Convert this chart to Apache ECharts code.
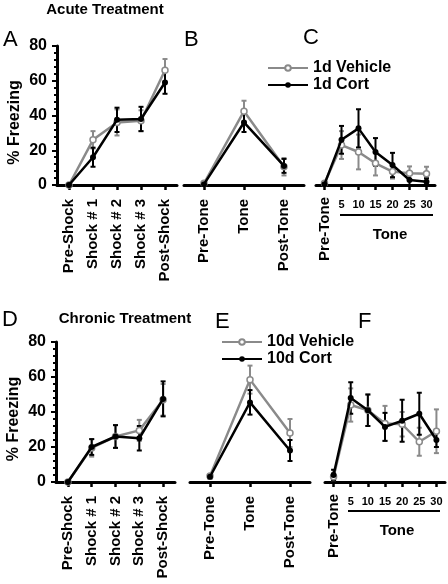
<!DOCTYPE html>
<html>
<head>
<meta charset="utf-8">
<script src="https://cdn.jsdelivr.net/npm/echarts@6/dist/echarts.min.js"></script>
<style>html,body{margin:0;padding:0;background:#fff;}#c{width:448px;height:584px;}</style>
</head>
<body>
<div id="c"></div>
<script>
// ---- categories / tick labels ----
var catsShock = ['Pre-Shock', 'Shock # 1', 'Shock # 2', 'Shock # 3', 'Post-Shock'];
var catsTone = ['Pre-Tone', 'Tone', 'Post-Tone'];
var catsToneBins = ['Pre-Tone', '5', '10', '15', '20', '25', '30'];
var yTicks = [0, 20, 40, 60, 80];

// ---- Acute (1d) ----
var vehA = [0, 26, 36, 37, 66];        var vehAErr = [0.5, 5, 7.5, 6, 6.5];
var cortA = [0, 16, 37.5, 38, 59];     var cortAErr = [0.5, 5.5, 7, 7, 6.5];
var vehB = [1, 42.5, 10.5];            var vehBErr = [0.5, 6, 5];
var cortB = [0.5, 36, 11];             var cortBErr = [0.5, 5.5, 4];
var vehC = [1, 23, 19, 12.5, 7.7, 6.7, 6.5];   var vehCErr = [0.5, 8, 10, 7, 4, 4, 4];
var cortC = [0.5, 26, 32.6, 19, 11.5, 2.9, 1.9]; var cortCErr = [0.5, 8, 11, 8, 7, 3, 2];

// ---- Chronic (10d) ----
var vehD = [0, 19.5, 26, 29.5, 47];    var vehDErr = [0.5, 5, 6.5, 6, 9];
var cortD = [0, 20, 26, 25, 47.5];     var cortDErr = [0.5, 4.5, 6.5, 7, 10];
var vehE = [3.5, 58.5, 28];            var vehEErr = [1, 8, 8];
var cortE = [3, 45.5, 18];             var cortEErr = [1, 7, 6];
var vehF = [3, 44, 41, 33.5, 33, 23, 29];   var vehFErr = [2, 9.5, 9, 10, 7, 8, 12.5];
var cortF = [4, 48, 41, 31.5, 35, 39, 24];  var cortFErr = [3, 9, 9, 8, 12, 12, 4];

var FONT = 'Liberation Sans, Arial, Helvetica, sans-serif';
var GRAY = '#8a8a8a';
var BLACK = '#000';

var grids = [
  {left: 57, top: 46, width: 120, height: 139},
  {left: 184, top: 46, width: 120, height: 139},
  {left: 316, top: 46, width: 119, height: 139},
  {left: 56, top: 342, width: 119, height: 140},
  {left: 190, top: 342, width: 120, height: 140},
  {left: 325, top: 342, width: 120, height: 140}
];

function xAx(gi, cats, fmt, rotate, fs, margin, showLine) {
  return {
    type: 'category', gridIndex: gi, data: cats, position: 'bottom',
    axisLine: {show: showLine, onZero: false, lineStyle: {color: BLACK, width: 3}},
    axisTick: {show: showLine, alignWithLabel: true, length: 5, lineStyle: {color: BLACK, width: 2.5}},
    axisLabel: {show: true, interval: 0, rotate: rotate, margin: margin, color: BLACK,
      fontFamily: FONT, fontWeight: 'bold', fontSize: fs, formatter: fmt},
    splitLine: {show: false}
  };
}
function yAx(gi, show) {
  return {
    type: 'value', gridIndex: gi, min: yTicks[0], max: yTicks[yTicks.length - 1], interval: yTicks[1] - yTicks[0],
    show: show,
    name: show ? '% Freezing' : '', nameLocation: 'middle', nameGap: 34,
    nameTextStyle: {fontFamily: FONT, fontWeight: 'bold', fontSize: 16, color: BLACK, padding: [0, 0, 0, -14]},
    axisLine: {show: show, lineStyle: {color: BLACK, width: 3}},
    axisTick: {show: show, length: 5, lineStyle: {color: BLACK, width: 2}},
    minorTick: {show: show, splitNumber: 5, length: 3, lineStyle: {color: BLACK, width: 2}},
    axisLabel: {show: show, margin: 10, color: BLACK, fontFamily: FONT, fontWeight: 'bold', fontSize: 16},
    splitLine: {show: false}, minorSplitLine: {show: false}
  };
}
var onlyPre = function (v) { return v === 'Pre-Tone' ? v : ''; };
var noPre = function (v) { return v === 'Pre-Tone' ? '' : v; };
var all = function (v) { return v; };

var xAxes = [
  xAx(0, catsShock, all, 90, 15, 14, true),
  xAx(1, catsTone, all, 90, 15, 14, true),
  xAx(2, catsToneBins, onlyPre, 90, 15, 12, true),
  xAx(3, catsShock, all, 90, 15, 14, true),
  xAx(4, catsTone, all, 90, 15, 14, true),
  xAx(5, catsToneBins, onlyPre, 90, 15, 12, true),
  xAx(2, catsToneBins, noPre, 0, 11, 14, false),
  xAx(5, catsToneBins, noPre, 0, 11, 14, false)
];
var yAxes = [yAx(0, true), yAx(1, false), yAx(2, false), yAx(3, true), yAx(4, false), yAx(5, false)];

function lineSeries(name, gi, vals, isVeh) {
  return {
    name: name, type: 'line', xAxisIndex: gi, yAxisIndex: gi, data: vals,
    symbol: 'circle', symbolSize: 6, z: isVeh ? 3 : 4,
    lineStyle: {color: isVeh ? GRAY : BLACK, width: 2.5},
    itemStyle: {color: isVeh ? '#fff' : BLACK, borderColor: isVeh ? GRAY : BLACK, borderWidth: isVeh ? 1.5 : 0},
    animation: false
  };
}
function errSeries(gi, vals, errs, color) {
  var d = vals.map(function (v, i) { return [i, v, errs[i]]; });
  return {
    type: 'custom', xAxisIndex: gi, yAxisIndex: gi, data: d, z: color === GRAY ? 2 : 3,
    encode: {x: 0, y: 1}, silent: true, animation: false,
    renderItem: function (params, api) {
      var i = api.value(0), v = api.value(1), e = api.value(2);
      var top = api.coord([i, v + e]);
      var bot = api.coord([i, Math.max(0, v - e)]);
      var w = 2.5;
      var st = {stroke: color, lineWidth: 2};
      return {type: 'group', children: [
        {type: 'line', shape: {x1: top[0], y1: top[1], x2: bot[0], y2: bot[1]}, style: st},
        {type: 'line', shape: {x1: top[0] - w, y1: top[1], x2: top[0] + w, y2: top[1]}, style: st},
        {type: 'line', shape: {x1: bot[0] - w, y1: bot[1], x2: bot[0] + w, y2: bot[1]}, style: st}
      ]};
    }
  };
}

var panels = [
  [0, vehA, vehAErr, cortA, cortAErr, '1d'],
  [1, vehB, vehBErr, cortB, cortBErr, '1d'],
  [2, vehC, vehCErr, cortC, cortCErr, '1d'],
  [3, vehD, vehDErr, cortD, cortDErr, '10d'],
  [4, vehE, vehEErr, cortE, cortEErr, '10d'],
  [5, vehF, vehFErr, cortF, cortFErr, '10d']
];
var series = [];
panels.forEach(function (p) {
  series.push(errSeries(p[0], p[1], p[2], GRAY));
  series.push(errSeries(p[0], p[3], p[4], BLACK));
  series.push(lineSeries(p[5] + ' Vehicle', p[0], p[1], true));
  series.push(lineSeries(p[5] + ' Cort', p[0], p[3], false));
});

function legend(names, left, top) {
  return {
    data: names, orient: 'vertical', left: left, top: top,
    itemWidth: 40, itemHeight: 7, itemGap: 1, selectedMode: false,
    textStyle: {fontFamily: FONT, fontWeight: 'bold', fontSize: 16, color: BLACK}
  };
}

function txt(s, x, y, size, bold, align) {
  return {type: 'text', x: x, y: y, silent: true, style: {
    text: s, fill: BLACK, font: (bold ? 'bold ' : '') + size + 'px ' + FONT,
    align: align || 'center', verticalAlign: 'middle'}};
}
function hline(x1, x2, y) {
  return {type: 'line', silent: true, shape: {x1: x1, y1: y, x2: x2, y2: y}, style: {stroke: BLACK, lineWidth: 2}};
}

var option = {
  backgroundColor: '#fff',
  animation: false,
  grid: grids,
  xAxis: xAxes,
  yAxis: yAxes,
  legend: [legend(['1d Vehicle', '1d Cort'], 262, 55), legend(['10d Vehicle', '10d Cort'], 216, 329)],
  series: series,
  graphic: [
    txt('Acute Treatment', 105, 10, 15, true),
    txt('Chronic Treatment', 125, 319, 15, true),
    txt('A', 3, 40, 22, false, 'left'),
    txt('B', 184, 40, 22, false, 'left'),
    txt('C', 303, 38, 22, false, 'left'),
    txt('D', 2, 320, 22, false, 'left'),
    txt('E', 215, 322, 22, false, 'left'),
    txt('F', 358, 322, 22, false, 'left'),
    hline(340, 433, 215),
    txt('Tone', 390, 235, 15, true),
    hline(348, 440, 511),
    txt('Tone', 397, 531, 15, true)
  ]
};
var chart = echarts.init(document.getElementById('c'), null, {renderer: 'canvas'});
chart.setOption(option);
</script>
</body>
</html>
